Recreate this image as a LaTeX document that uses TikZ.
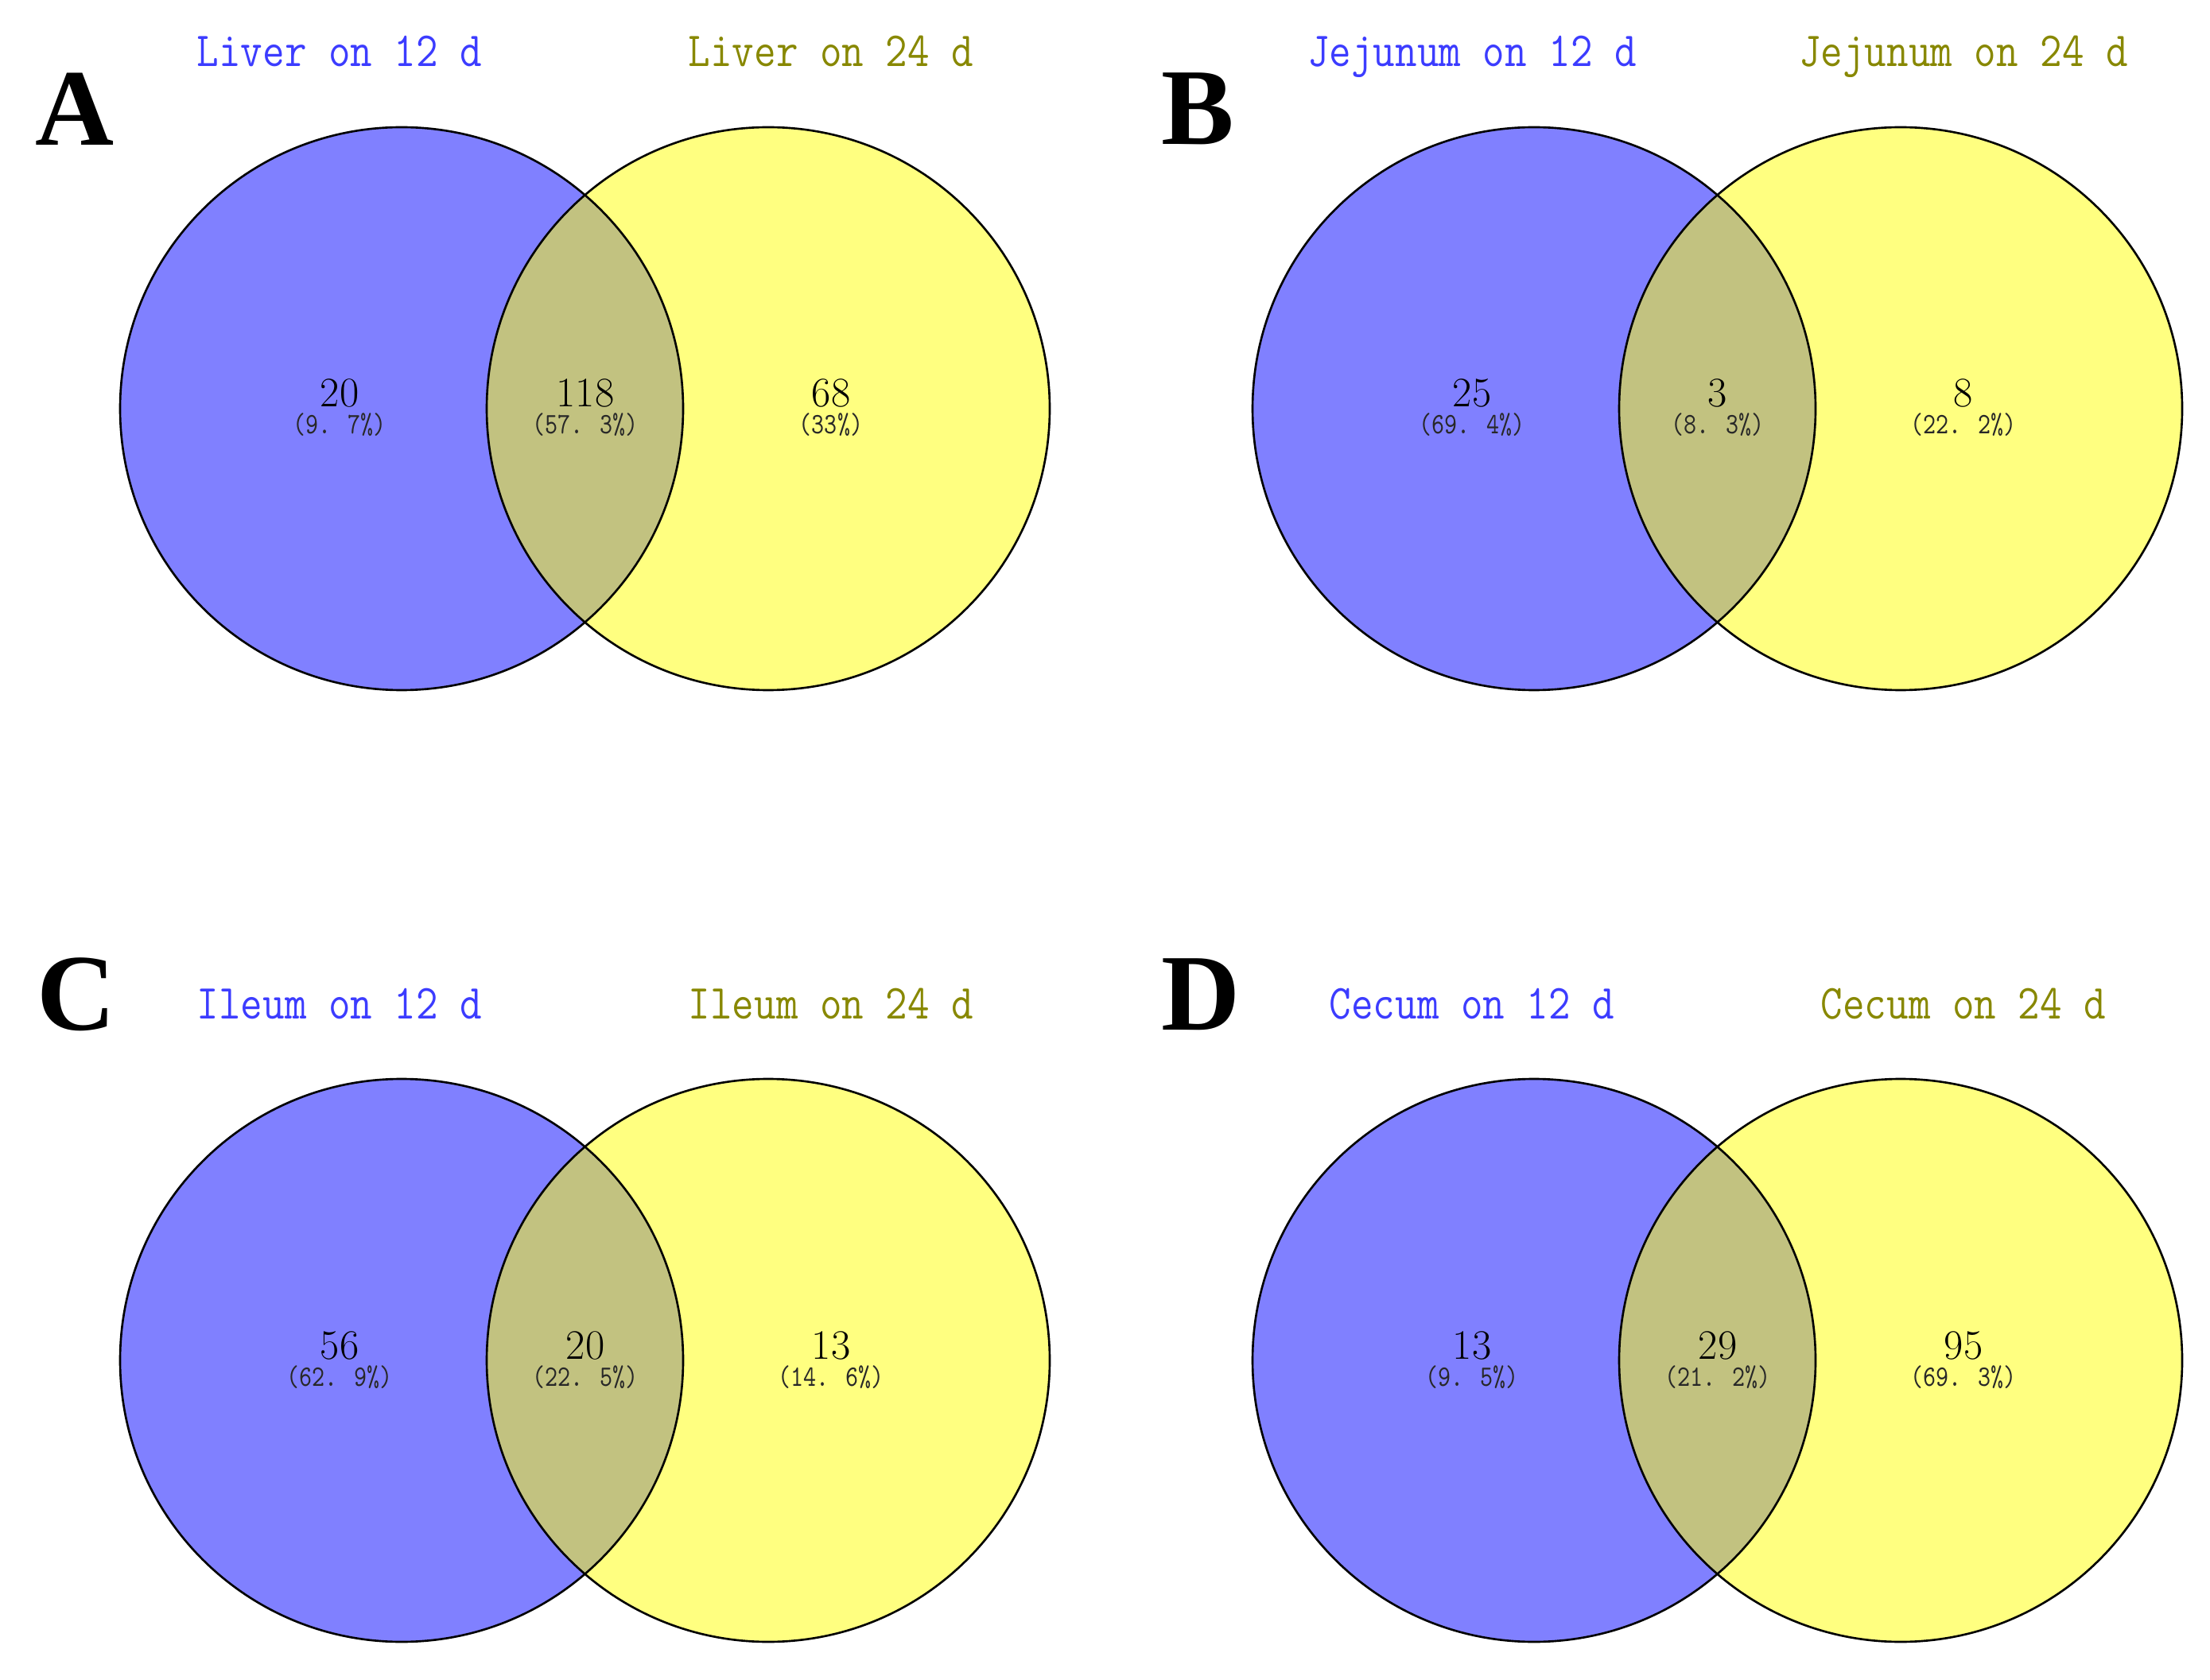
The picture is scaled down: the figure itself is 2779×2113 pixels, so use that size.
\documentclass[tikz,border=0pt]{standalone}
\usepackage{fontspec}
\newfontfamily\letterfont{Liberation Serif}
\newfontfamily\titlefont{Latin Modern Mono}[FakeStretch=0.87]
\newfontfamily\pctfont{Latin Modern Mono}[FakeStretch=0.82]
\definecolor{vblue}{RGB}{128,128,255}
\definecolor{vyellow}{RGB}{255,255,128}
\definecolor{vinter}{RGB}{194,194,128}
\definecolor{tblue}{RGB}{60,60,255}
\definecolor{tolive}{RGB}{136,136,0}
\definecolor{pctgray}{RGB}{40,40,40}
\tikzset{
  ring/.style={draw=black, line width=0.75pt},
  paneltag/.style={anchor=base west, inner sep=0pt, font=\letterfont\bfseries\fontsize{39}{40}\selectfont},
  titleA/.style={anchor=base, inner sep=0pt, text=tblue, font=\titlefont\fontsize{17.5}{20}\selectfont},
  titleB/.style={anchor=base, inner sep=0pt, text=tolive, font=\titlefont\fontsize{17.5}{20}\selectfont},
  count/.style={anchor=base, inner sep=0pt, font=\fontsize{15}{18}\selectfont},
  pct/.style={anchor=base, inner sep=0pt, text=pctgray, font=\pctfont\fontsize{10.6}{12}\selectfont},
}
% #1 prefix, #2 dx, #3 dy, #4 title1, #5 title2
\newcommand\vennbase[5]{%
  \begin{scope}[shift={(#2,#3)}]
    \coordinate (#1c1) at (505,514);
    \coordinate (#1c2) at (966,514);
    \fill[vblue] (#1c1) circle[radius=354];
    \fill[vyellow] (#1c2) circle[radius=354];
    \begin{scope}
      \clip (#1c1) circle[radius=354];
      \fill[vinter] (#1c2) circle[radius=354];
    \end{scope}
    \draw[ring] (#1c1) circle[radius=354];
    \draw[ring] (#1c2) circle[radius=354];
    \node[titleA] (#1t1) at (427,84) {#4};
    \node[titleB] (#1t2) at (1045,84) {#5};
  \end{scope}}
% #1 prefix, #2 dx, #3 dy, then 6 texts
\newcommand\vennlabels[9]{%
  \begin{scope}[shift={(#2,#3)}]
    \node[count] (#1n1) at (427,512) {#4};
    \node[pct] (#1p1) at (427,546) {#5};
    \node[count] (#1n2) at (736,512) {#6};
    \node[pct] (#1p2) at (736,546) {#7};
    \node[count] (#1n3) at (1045,512) {#8};
    \node[pct] (#1p3) at (1045,546) {#9};
  \end{scope}}
\begin{document}
\begin{tikzpicture}[x=0.01cm,y=-0.01cm]
  \useasboundingbox[fill=white] (0,0) rectangle (2779,2113);
  \vennbase{a}{0}{0}{Liver on 12 d}{Liver on 24 d}
  \vennlabels{a}{0}{0}{20}{(9. 7\%)}{118}{(57. 3\%)}{68}{(33\%)}
  \vennbase{b}{1424}{0}{Jejunum on 12 d}{Jejunum on 24 d}
  \vennlabels{b}{1424}{0}{25}{(69. 4\%)}{3}{(8. 3\%)}{8}{(22. 2\%)}
  \vennbase{c}{0}{1197}{Ileum on 12 d}{Ileum on 24 d}
  \vennlabels{c}{0}{1197}{56}{(62. 9\%)}{20}{(22. 5\%)}{13}{(14. 6\%)}
  \vennbase{d}{1424}{1197}{Cecum on 12 d}{Cecum on 24 d}
  \vennlabels{d}{1424}{1197}{13}{(9. 5\%)}{29}{(21. 2\%)}{95}{(69. 3\%)}
  \node[paneltag] (tagA) at (44,183) {A};
  \node[paneltag] (tagB) at (1460,182) {B};
  \node[paneltag] (tagC) at (46,1295) {C};
  \node[paneltag] (tagD) at (1460,1295) {D};
\end{tikzpicture}
\end{document}
